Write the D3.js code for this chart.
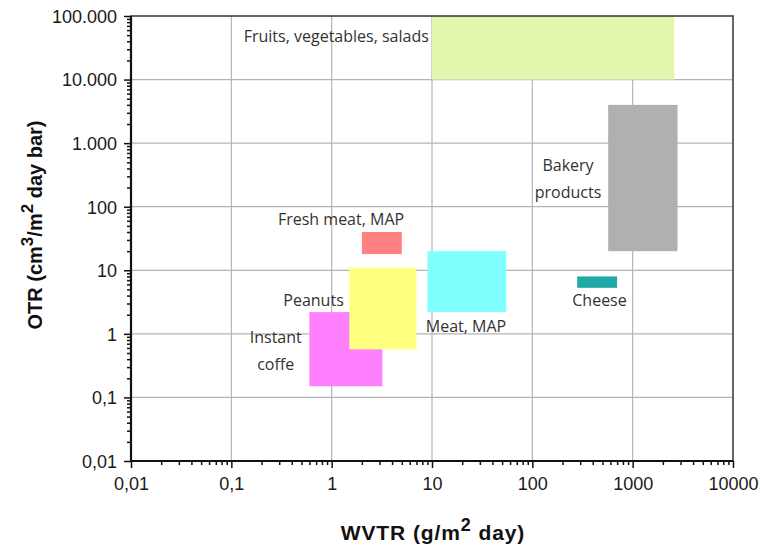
<!DOCTYPE html>
<html><head><meta charset="utf-8">
<script src="https://cdn.jsdelivr.net/npm/d3@7"></script>
<style>body{margin:0;background:#fff}svg{display:block}</style>
</head><body><svg id="c" width="760" height="549"></svg>
<script>
// Data
const categories = ["Fruits, vegetables, salads","Bakery products","Fresh meat, MAP","Instant coffe","Peanuts","Meat, MAP","Cheese"];
const wvtrMin = [10, 570, 2, 0.6, 1.5, 9, 280];
const wvtrMax = [2600, 2800, 5, 3.2, 7, 55, 700];
const otrMin  = [10000, 20, 18, 0.15, 0.57, 2.2, 5.3];
const otrMax  = [100000, 4000, 40, 2.2, 11, 20, 8];
const colors  = ["#e1f7ad","#b0b0b0","#ff8080","#ff80ff","#ffff80","#80ffff","#20aaa6"];
const xTickValues = [0.01,0.1,1,10,100,1000,10000];
const xTickLabels = ["0,01","0,1","1","10","100","1000","10000"];
const yTickValues = [0.01,0.1,1,10,100,1000,10000,100000];
const yTickLabels = ["0,01","0,1","1","10","100","1.000","10.000","100.000"];
const labelLines = [["Fruits, vegetables, salads"],["Bakery","products"],["Fresh meat, MAP"],["Instant","coffe"],["Peanuts"],["Meat, MAP"],["Cheese"]];

const svg = d3.select("#c");
const L=131,R=733,T=16,B=461;
const x = d3.scaleLog().domain([0.01,10000]).range([L,R]);
const y = d3.scaleLog().domain([0.01,100000]).range([B,T]);

// grid
const g = svg.append("g");
g.selectAll("line.gx").data(xTickValues.slice(1,-1)).join("line")
 .attr("x1",d=>x(d)).attr("x2",d=>x(d)).attr("y1",T).attr("y2",B)
 .attr("stroke","#b4b4b4").attr("stroke-width",1.2);
g.selectAll("line.gy").data(yTickValues.slice(1,-1)).join("line")
 .attr("y1",d=>y(d)).attr("y2",d=>y(d)).attr("x1",L).attr("x2",R)
 .attr("stroke","#b4b4b4").attr("stroke-width",1.2);

// rects
const idx = [0,1,2,3,4,5,6];
svg.append("g").selectAll("rect").data(idx).join("rect")
 .attr("x",i=>x(wvtrMin[i])).attr("width",i=>x(wvtrMax[i])-x(wvtrMin[i]))
 .attr("y",i=>y(otrMax[i])).attr("height",i=>y(otrMin[i])-y(otrMax[i]))
 .attr("fill",i=>colors[i]);

// frame
svg.append("rect").attr("x",L).attr("y",T).attr("width",R-L).attr("height",B-T)
 .attr("fill","none").attr("stroke","#333").attr("stroke-width",1.5);

// minor ticks
function minors(dom){const out=[];for(let e=Math.log10(dom[0]);e<Math.log10(dom[1]);e++){for(let k=2;k<10;k++)out.push(k*Math.pow(10,e));}return out;}
const axStyle = sel=>{sel.select(".domain").remove();sel.selectAll("line").attr("stroke","#111").attr("stroke-width",1.5);};
svg.append("g").attr("transform",`translate(0,${B})`)
 .call(d3.axisBottom(x).tickValues(minors(x.domain())).tickSize(4).tickFormat(""))
 .call(axStyle);
svg.append("g").attr("transform",`translate(${L},0)`)
 .call(d3.axisLeft(y).tickValues(minors(y.domain())).tickSize(4).tickFormat(""))
 .call(axStyle);
// major ticks
const xa = svg.append("g").attr("transform",`translate(0,${B})`)
 .call(d3.axisBottom(x).tickValues(xTickValues).tickSize(7).tickPadding(9).tickFormat((d,i)=>xTickLabels[i]))
 .call(axStyle);
const ya = svg.append("g").attr("transform",`translate(${L},0)`)
 .call(d3.axisLeft(y).tickValues(yTickValues).tickSize(7).tickPadding(7).tickFormat((d,i)=>yTickLabels[i]))
 .call(axStyle);
[xa,ya].forEach(a=>a.selectAll("text").attr("font-family","Liberation Sans, Arial, sans-serif").attr("font-size",18).attr("fill","#1a1a1a"));
ya.selectAll("text").attr("dy","0.35em");
// thick axis lines
svg.append("line").attr("x1",L).attr("x2",L).attr("y1",T).attr("y2",B).attr("stroke","#111").attr("stroke-width",2.2);
svg.append("line").attr("x1",L).attr("x2",R).attr("y1",B).attr("y2",B).attr("stroke","#111").attr("stroke-width",2.2);

// category labels
const labelPos = [
 {x:x(9.3), y:y(48000), anchor:"end"},
 {x:x(227), y:y(273), anchor:"middle"},
 {x:x(1.24), y:y(64), anchor:"middle"},
 {x:x(0.277), y:y(0.537), anchor:"middle"},
 {x:x(1.32), y:y(3.4), anchor:"end"},
 {x:x(21.8), y:y(1.29), anchor:"middle"},
 {x:x(467), y:y(3.4), anchor:"middle"}
];
const lab = svg.append("g").attr("font-family","Open Sans, sans-serif").attr("font-size",16).attr("fill","#333");
idx.forEach(i=>{
  const lines = labelLines[i], p = labelPos[i];
  const t = lab.append("text").attr("text-anchor",p.anchor);
  lines.forEach((s,k)=>t.append("tspan").attr("x",p.x).attr("y",p.y+(k-(lines.length-1)/2)*26.6).attr("dy","0.35em").text(s));
});

// axis titles
const xt = svg.append("text").attr("x",433).attr("y",540).attr("text-anchor","middle")
 .attr("font-family","Liberation Sans, Arial, sans-serif").attr("font-weight","bold").attr("font-size",21)
 .attr("letter-spacing",0.9).attr("fill","#111");
xt.append("tspan").text("WVTR (g/m");
xt.append("tspan").attr("dy",-9).attr("font-size",18).text("2");
xt.append("tspan").attr("dy",9).text(" day)");

const yt = svg.append("text").attr("transform","translate(42,225) rotate(-90)").attr("text-anchor","middle")
 .attr("font-family","Liberation Sans, Arial, sans-serif").attr("font-weight","bold").attr("font-size",20)
 .attr("fill","#111");
yt.append("tspan").text("OTR (cm");
yt.append("tspan").attr("dy",-9).attr("font-size",17).text("3");
yt.append("tspan").attr("dy",9).text("/m");
yt.append("tspan").attr("dy",-9).attr("font-size",17).text("2");
yt.append("tspan").attr("dy",9).text(" day bar)");
</script></body></html>
